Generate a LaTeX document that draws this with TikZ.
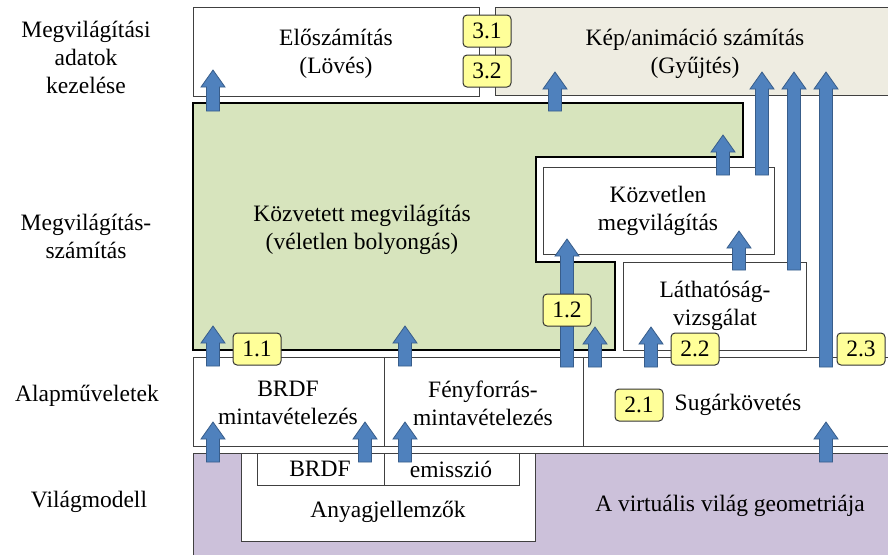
\documentclass[tikz,border=0pt]{standalone}
\usepackage{fontspec}
\setmainfont{Liberation Serif}
\definecolor{arrblue}{HTML}{4F81BD}
\definecolor{arredge}{HTML}{385D8A}
\definecolor{indirgreen}{HTML}{D7E4BD}
\definecolor{gatherbeige}{HTML}{EEECE1}
\definecolor{worldpurple}{HTML}{CCC1DA}
\definecolor{badgeyellow}{HTML}{FFFF99}

\begin{document}
\begin{tikzpicture}[x=0.5pt, y=-0.5pt, font=\fontsize{11.75}{14}\selectfont,
  box/.style={draw=black!75, line width=0.5pt},
  txt/.style={align=center, inner sep=0pt},
  badge/.style={draw=black!80, fill=badgeyellow, rounded corners=2pt, line width=0.5pt,
    minimum width=24pt, minimum height=16pt, inner sep=0pt},
  blk/.style={draw=arredge, fill=arrblue, line width=0.4pt}]
\useasboundingbox (0,0) rectangle (888,554);

% layer names on the left
\node [txt] (lay3) at (86,57) {Megvilágítási\\adatok\\kezelése};
\node [txt] (lay2) at (86,236) {Megvilágítás-\\számítás};
\node [txt] (lay1) at (87,396) {Alapműveletek};
\node [txt] (lay0) at (89,502) {Világmodell};

% top row
\draw [box, fill=white] (193,7) rectangle (479,96);
\draw [box, fill=gatherbeige] (495,7) rectangle (892,95);
\node [txt] (shoot) at (336,54) {Előszámítás\\(Lövés)};
\node [txt] (gather) at (695,54) {Kép/animáció számítás\\(Gyűjtés)};

% indirect illumination
\draw [fill=indirgreen, line width=0.8pt] (193,103) -- (743,103) -- (743,157) -- (536,157)
  -- (536,262) -- (615,262) -- (615,350) -- (193,350) -- cycle;
\node [txt] (indirect) at (362,230) {Közvetett megvilágítás\\(véletlen bolyongás)};
\draw [box, fill=white] (543,167) rectangle (774,254);
\node [txt] (direct) at (658,211) {Közvetlen\\megvilágítás};
\draw [box, fill=white] (623,262) rectangle (806,350);
\node [txt] (visib) at (715,306) {Láthatóság-\\vizsgálat};

% basic operations
\draw [box, fill=white] (193,357) rectangle (892,446);
\draw [box] (384,357) -- (384,446);
\draw [box] (583,357) -- (583,446);
\node [txt] (brdfsamp) at (288,403) {BRDF\\mintavételezés};
\node [txt] (lightsamp) at (483,403) {Fényforrás-\\mintavételezés};
\node [txt] (raytrace) at (738,405) {Sugárkövetés};

% world model
\draw [box, fill=worldpurple] (193,453) rectangle (892,560);
\draw [box, fill=white] (241,453) rectangle (535,541);
\draw [box] (257,453) rectangle (519,485);
\draw [box] (384,453) -- (384,485);
\node [txt] (brdf) at (320,469) {BRDF};
\node [txt] (emis) at (451,469) {emisszió};
\node [txt] (material) at (388,512) {Anyagjellemzők};
\node [txt] (geom) at (730,506) {A virtuális világ geometriája};

% block arrows: x / bottom / tip
\foreach \x/\ya/\yb in {213/111/70, 555/111/72, 762/175/72, 794/270/72, 826/367/72,
    723/175/135, 739/270/231, 567/367/239, 595/367/327, 651/367/327,
    213/366/326, 405/366/326, 213/462/422, 365/462/422, 405/462/422, 826/462/422}
  \filldraw [blk] ({\x-6.5},\ya) -- ({\x-6.5},{\yb+17}) -- ({\x-12},{\yb+17}) -- (\x,\yb)
    -- ({\x+12},{\yb+17}) -- ({\x+6.5},{\yb+17}) -- ({\x+6.5},\ya) -- cycle;

% step numbers
\node [badge] (s31) at (487,31) {3.1};
\node [badge] (s32) at (487,71) {3.2};
\node [badge] (s11) at (257,349) {1.1};
\node [badge] (s12) at (567,310) {1.2};
\node [badge] (s22) at (695,349) {2.2};
\node [badge] (s23) at (861,349) {2.3};
\node [badge] (s21) at (639,405) {2.1};
\end{tikzpicture}
\end{document}
